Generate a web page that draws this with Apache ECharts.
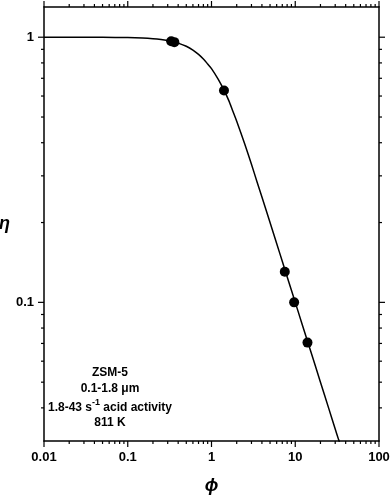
<!DOCTYPE html>
<html><head><meta charset="utf-8">
<script src="https://cdn.jsdelivr.net/npm/echarts@6/dist/echarts.min.js"></script>
<style>html,body{margin:0;padding:0;background:#fff}#c{width:392px;height:495px}</style>
</head><body><div id="c"></div>
<script>
// curve (phi, eta)
const curvePhi = [0.01,0.02,0.05,0.1,0.15,0.2,0.25,0.3,0.35,0.4,0.5,0.6,0.7,0.8,0.9,1.0,1.2,1.4,1.6,1.8,2.0,2.5,3,3.5,4,5,6,7,8,10,12,15,20,25,30,33,35];
const curveEta = [1.0,0.9999,0.9992,0.9967,0.9926,0.9869,0.9797,0.9711,0.9612,0.9501,0.9242,0.8945,0.8619,0.8277,0.7928,0.7616,0.6950,0.6344,0.5792,0.5260,0.4820,0.3946,0.3317,0.2845,0.2498,0.2000,0.1667,0.1429,0.125,0.1,0.0833,0.0667,0.05,0.04,0.0333,0.0303,0.0286];
// measured points
const ptPhi = [0.33,0.36,1.41,7.5,9.7,14];
const ptEta = [0.965,0.958,0.63,0.1305,0.1,0.0705];
// ticks
const xMajor = [0.01,0.1,1,10,100];
const xMinor = [0.02,0.03,0.04,0.05,0.06,0.07,0.08,0.09,0.2,0.3,0.4,0.5,0.6,0.7,0.8,0.9,2,3,4,5,6,7,8,9,20,30,40,50,60,70,80,90];
const yMajor = [0.1,1];
const yMinor = [0.04,0.05,0.06,0.07,0.08,0.09,0.2,0.3,0.4,0.5,0.6,0.7,0.8,0.9];

const FONT = '"Liberation Sans", Arial, sans-serif';
const LBL = {color:'#000', fontFamily:FONT, fontWeight:'bold', fontSize:13};
const NAME = {fontFamily:FONT, fontWeight:'bold', fontStyle:'italic', fontSize:18, color:'#000'};
const LINE = {show:true, onZero:false, lineStyle:{color:'#000', width:1.5}};

function xTickSeries(vals, len){
  return {type:'custom', xAxisIndex:0, yAxisIndex:0, clip:false, silent:true, z:5,
    data: vals.map(v=>[v, 0.5]),
    renderItem:(params, api)=>{
      const cs = params.coordSys;
      const x = api.coord([api.value(0), 0.5])[0];
      const b = cs.y + cs.height, t = cs.y;
      const st = {stroke:'#000', lineWidth:1.2};
      return {type:'group', children:[
        {type:'line', shape:{x1:x, y1:b, x2:x, y2:b+len}, style:st},
        {type:'line', shape:{x1:x, y1:t, x2:x, y2:t-len}, style:st}
      ]};
    }};
}
function yTickSeries(vals, len){
  return {type:'custom', xAxisIndex:0, yAxisIndex:0, clip:false, silent:true, z:5,
    data: vals.map(v=>[1, v]),
    renderItem:(params, api)=>{
      const cs = params.coordSys;
      const y = api.coord([1, api.value(1)])[1];
      const l = cs.x, r = cs.x + cs.width;
      const st = {stroke:'#000', lineWidth:1.2};
      return {type:'group', children:[
        {type:'line', shape:{x1:l, y1:y, x2:l-len, y2:y}, style:st},
        {type:'line', shape:{x1:r, y1:y, x2:r+len, y2:y}, style:st}
      ]};
    }};
}

const chart = echarts.init(document.getElementById('c'), null, {renderer:'canvas'});
chart.setOption({
  animation:false,
  backgroundColor:'#fff',
  grid:{left:44, right:13, top:7, bottom:54, containLabel:false, outerBoundsMode:'none'},
  xAxis:[
    {type:'log', logBase:10, min:0.01, max:100, position:'bottom', axisLine:LINE, axisTick:{show:false},
     axisLabel:Object.assign({customValues:xMajor, margin:10, formatter:v=>String(v)}, LBL),
     splitLine:{show:false}, name:'ϕ', nameLocation:'middle', nameGap:36, nameTextStyle:NAME},
    {type:'log', logBase:10, min:0.01, max:100, position:'top', axisLine:LINE, axisTick:{show:false},
     axisLabel:{show:false}, splitLine:{show:false}}
  ],
  yAxis:[
    {type:'log', logBase:10, min:0.03, max:1.3, position:'left', axisLine:LINE, axisTick:{show:false},
     axisLabel:Object.assign({customValues:yMajor, margin:10, formatter:v=>String(v)}, LBL),
     splitLine:{show:false}, name:'η', nameLocation:'middle', nameGap:30, nameRotate:0, nameTextStyle:NAME},
    {type:'log', logBase:10, min:0.03, max:1.3, position:'right', axisLine:LINE, axisTick:{show:false},
     axisLabel:{show:false}, splitLine:{show:false}}
  ],
  series:[
    {type:'line', xAxisIndex:0, yAxisIndex:0, data:curvePhi.map((p,i)=>[p,curveEta[i]]),
     showSymbol:false, smooth:0.3, lineStyle:{color:'#000', width:1.5}, clip:true, z:2},
    {type:'scatter', xAxisIndex:0, yAxisIndex:0, data:ptPhi.map((p,i)=>[p,ptEta[i]]),
     symbol:'circle', symbolSize:10, itemStyle:{color:'#000', opacity:1}, z:3},
    xTickSeries(xMajor, 6), xTickSeries(xMinor, 3),
    yTickSeries(yMajor, 6), yTickSeries(yMinor, 3)
  ],
  graphic:[
    {type:'text', x:110, y:373, style:{text:'ZSM-5', align:'center', verticalAlign:'middle', font:'bold 12px '+FONT, fill:'#000'}},
    {type:'text', x:110, y:389, style:{text:'0.1-1.8 μm', align:'center', verticalAlign:'middle', font:'bold 12px '+FONT, fill:'#000'}},
    {type:'text', x:110, y:406, style:{text:'{a|1.8-43 s}{s|-1}{a| acid activity}', align:'center', verticalAlign:'middle',
      rich:{a:{fontFamily:FONT, fontWeight:'bold', fontSize:12, color:'#000', lineHeight:15, verticalAlign:'bottom'},
            s:{fontFamily:FONT, fontWeight:'bold', fontSize:9, color:'#000', lineHeight:15, verticalAlign:'top', padding:[0,0,4,0]}}}},
    {type:'text', x:110, y:423, style:{text:'811 K', align:'center', verticalAlign:'middle', font:'bold 12px '+FONT, fill:'#000'}}
  ]
});
</script></body></html>
